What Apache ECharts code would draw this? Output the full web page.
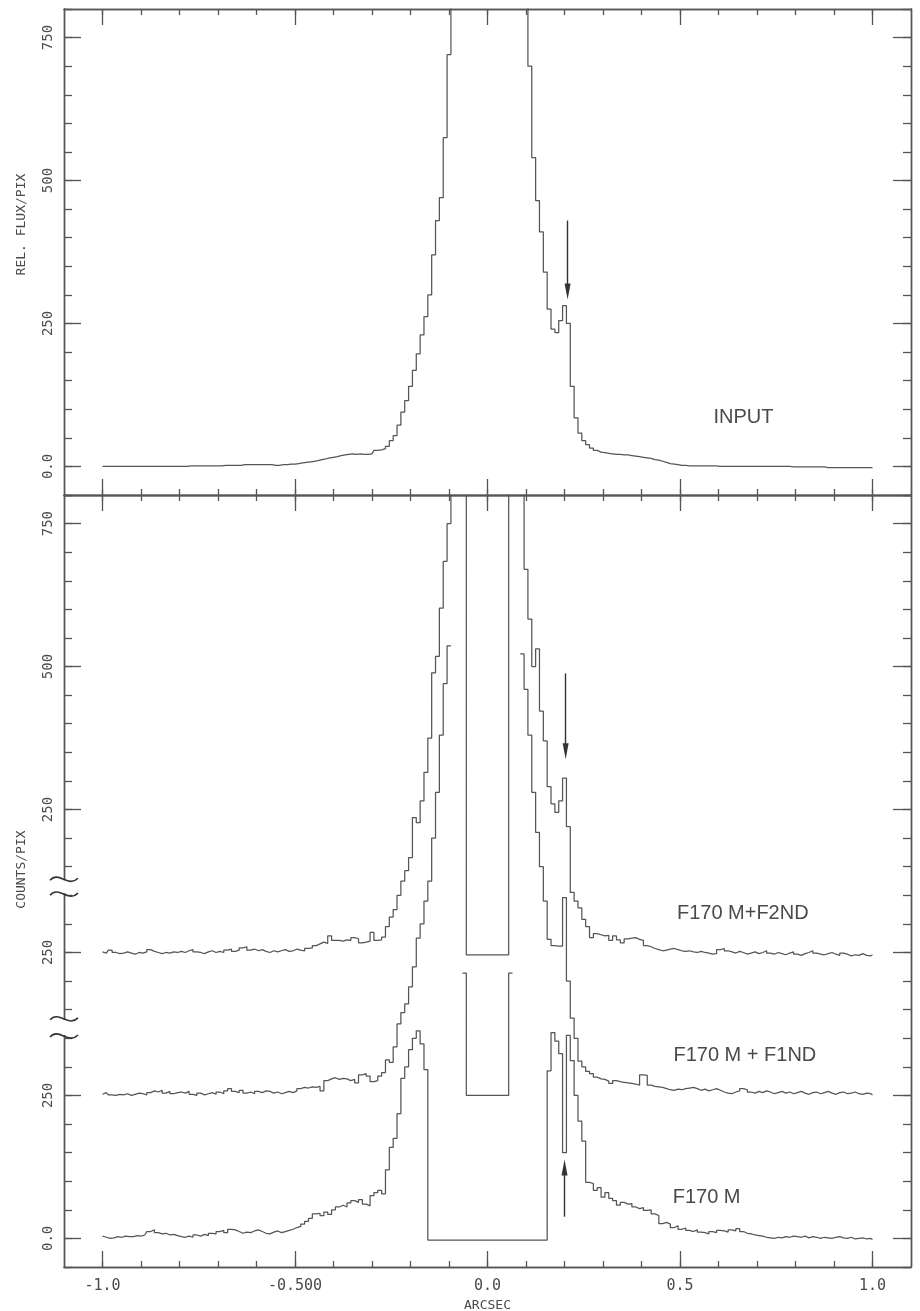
<!DOCTYPE html>
<html><head><meta charset="utf-8">
<script src="https://cdn.jsdelivr.net/npm/echarts@6/dist/echarts.min.js"></script>
<style>html,body{margin:0;padding:0;background:#fff}#c{width:920px;height:1311px}</style>
</head><body><div id="c"></div>
<script>
// ---- data (bin centres: -1.00 .. 1.00 in steps of 0.01 arcsec) ----
const X_START = -1.0;
const BIN = 0.01;

const INPUT = [
0,0,0,0,0,0,0,0,0,0,
0,0,0,0,0,0,0,0,0,0,
0,0,0,1,1,1,1,1,1,1,
1,1,2,2,2,2,2,3,3,3,
3,3,3,3,3,2,2,3,3,4,
4,5,6,7,8,9,10,12,13,15,
16,17,19,20,21,22,21,22,21,21,
22,28,29,31,35,45,54,72,95,115,
140,168,197,230,262,300,370,430,470,575,
720,1500,1500,1500,1500,1500,1500,1500,1500,1500,
1500,1500,1500,1500,1500,1500,1500,1500,1500,1500,
1500,700,540,465,410,340,275,240,234,255,
281,250,140,85,58,45,38,32,28,25,
24,23,22,21,21,20,20,19,18,17,
16,15,14,12,11,9,7,5,4,3,
2,2,1,1,1,1,1,1,1,1,
0,0,0,0,0,0,0,0,0,0,
0,0,0,0,0,0,0,0,0,-1,
-1,-1,-1,-1,-1,-1,-1,-1,-2,-2,
-2,-2,-2,-2,-2,-2,-2,-2,-2,-2,
-2];

const F170M = [
4,2,0,1,3,2,4,3,3,5,
4,6,12,15,10,8,9,6,7,5,
3,2,4,2,6,4,7,5,9,8,
12,14,10,16,15,12,9,11,10,13,
15,12,9,8,11,13,10,12,14,16,
19,21,25,30,35,43,44,40,46,42,
50,55,58,55,62,66,63,68,60,57,
75,80,84,78,120,159,175,218,280,300,
330,350,363,340,295,-3,-3,-3,-3,-3,
-3,-3,-3,-3,-3,-3,-3,-3,-3,-3,
-3,-3,-3,-3,-3,-3,-3,-3,-3,-3,
-3,-3,-3,-3,-3,-3,293,360,345,323,
150,355,311,250,205,170,98,96,84,89,
72,80,70,66,58,63,60,61,55,52,
54,49,50,43,40,26,28,25,19,22,
16,18,14,12,15,11,10,8,12,10,
14,13,11,15,13,17,12,9,8,6,
5,4,2,1,0,2,1,3,2,4,
3,2,4,1,3,2,0,2,1,0,
2,3,1,0,2,-1,0,1,-1,0,
-2];

const F170M_F1ND = [
252,255,251,250,252,251,253,250,252,254,
253,251,255,258,256,259,254,257,253,255,
256,254,257,252,250,254,251,253,255,252,
256,253,258,262,257,255,259,254,256,253,
257,255,258,257,254,256,253,255,257,255,
258,262,264,263,265,264,266,258,276,279,
281,278,280,279,276,278,272,286,288,284,
274,276,284,290,312,308,335,375,395,410,
440,475,525,550,590,625,700,780,880,970,
1036,null,null,null,464,250,250,250,250,250,
250,250,250,250,250,250,464,null,null,1022,
960,880,780,710,650,590,523,512,511,511,
596,450,385,350,310,300,292,288,282,279,
278,275,271,276,274,273,272,271,270,268,
286,285,268,266,265,264,262,260,259,261,
260,262,263,264,262,259,261,258,260,262,
259,256,254,253,256,258,262,260,256,254,
257,255,258,256,253,255,257,254,256,253,
255,257,254,252,255,256,253,255,257,254,
252,255,256,253,254,256,253,252,254,253,
251];

const F170M_F2ND = [
501,499,504,500,498,499,501,499,497,500,
499,501,505,502,500,498,500,499,501,500,
502,500,503,505,501,500,498,501,503,500,
502,500,504,506,502,504,508,510,504,506,
503,505,502,500,503,501,503,505,502,503,
506,504,503,507,508,512,515,518,516,529,
521,521,520,522,521,526,524,517,518,520,
535,521,522,527,545,562,575,600,625,643,
666,736,727,765,815,875,989,1018,1102,1184,
1250,2000,2000,2000,2000,496,496,496,496,496,
496,496,496,496,496,496,2000,2000,2000,2000,
1170,1083,1000,1031,922,870,790,760,745,765,
805,720,605,590,578,558,545,526,533,531,
529,530,521,529,522,517,524,525,526,523,
521,512,510,507,505,503,504,506,507,505,
503,502,503,501,500,502,500,499,497,498,
505,507,503,501,499,502,500,497,499,501,
498,500,503,499,497,500,498,496,499,501,
497,495,498,500,503,499,497,496,498,500,
497,495,499,497,494,496,495,498,495,494,
496];

const CURVE_NAMES = ['INPUT', 'F170 M+F2ND', 'F170 M + F1ND', 'F170 M'];
const X_MAJOR = [-1, -0.5, 0, 0.5, 1];
const X_MINOR = [-1,-0.9,-0.8,-0.7,-0.6,-0.5,-0.4,-0.3,-0.2,-0.1,0,0.1,0.2,0.3,0.4,0.5,0.6,0.7,0.8,0.9,1];
const X_LABELS = {'-1':'-1.0','-0.5':'-0.500','0':'0.0','0.5':'0.5','1':'1.0'};
const Y_TOP_MAJOR = [0, 250, 500, 750];
const Y_TOP_LABELS = {0:'0.0', 250:'250', 500:'500', 750:'750'};
const Y_BOT_MAJOR = [0, 250, 500, 750, 1000, 1250];
const Y_BOT_LABELS = {0:'0.0', 250:'250', 500:'250', 750:'250', 1000:'500', 1250:'750'};
const AXIS_NAMES = {x:'ARCSEC', top:'REL. FLUX/PIX', bottom:'COUNTS/PIX'};
const BREAKS = [[628, 602], [384, 354]];

// ---- styling ----
const LINE = '#555', TXT = '#4a4a4a';
const MONO = "'DejaVu Sans Mono','Liberation Mono',monospace";
const SANS = "'Liberation Sans',Arial,sans-serif";

function bins(vals){ return vals.map((v,i)=>[+(X_START + i*BIN).toFixed(3), v]); }

function xAx(grid, pos, ticks, len, labels){
  const a = {type:'value', gridIndex:grid, position:pos, min:-1.1, max:1.1,
    axisLine:{show:true, onZero:false, lineStyle:{color:LINE, width:1.4}},
    axisTick:{show:true, inside:true, length:len, customValues:ticks, lineStyle:{color:LINE, width:1.3}},
    axisLabel:{show:false}, splitLine:{show:false}};
  if (labels){
    a.axisLabel = {show:true, customValues:X_MAJOR, margin:12, color:TXT, fontFamily:MONO, fontSize:15,
      formatter:v=>X_LABELS[String(v)]};
    a.name = AXIS_NAMES.x; a.nameLocation = 'middle'; a.nameGap = 31;
    a.nameTextStyle = {color:TXT, fontFamily:MONO, fontSize:13};
  }
  return a;
}
function yAx(grid, pos, max, major, len, labels){
  const a = {type:'value', gridIndex:grid, position:pos, min:-50, max:max,
    axisLine:{show:true, onZero:false, lineStyle:{color:LINE, width:1.4}},
    axisTick:{show:true, inside:true, length:len, lineStyle:{color:LINE, width:1.3}},
    axisLabel:{show:false}, splitLine:{show:false}};
  if (major) a.axisTick.customValues = major; else a.interval = 50;
  if (labels){
    a.axisLabel = {show:true, customValues:major, rotate:90, margin:9, color:TXT, fontFamily:MONO, fontSize:14,
      formatter:v=>labels[v]};
  }
  return a;
}

const arrowStyle = {symbol:['none','triangle'], symbolSize:[6,16], silent:true, animation:false,
  label:{show:false}, lineStyle:{color:'#333', width:1.4, type:'solid'}, emphasis:{disabled:true}};

function curve(name, vals, xi, yi, extra){
  return Object.assign({type:'line', name:name, xAxisIndex:xi, yAxisIndex:yi, data:bins(vals),
    step:'middle', showSymbol:false, connectNulls:false, clip:true, animation:false, silent:true,
    lineStyle:{color:LINE, width:1.25}}, extra||{});
}

const option = {
  backgroundColor:'#fff',
  animation:false,
  grid:[
    {left:64, right:9, top:9, height:486, outerBoundsMode:'none'},
    {left:64, right:9, top:495, height:772, outerBoundsMode:'none'}
  ],
  xAxis:[
    xAx(0,'bottom',X_MAJOR,16,false), xAx(0,'bottom',X_MINOR,6,false),
    xAx(0,'top',X_MAJOR,16,false), xAx(0,'top',X_MINOR,6,false),
    xAx(1,'bottom',X_MAJOR,16,true), xAx(1,'bottom',X_MINOR,6,false),
    xAx(1,'top',X_MAJOR,16,false), xAx(1,'top',X_MINOR,6,false)
  ],
  yAxis:[
    yAx(0,'left',800,Y_TOP_MAJOR,17,Y_TOP_LABELS), yAx(0,'left',800,null,8,null),
    yAx(0,'right',800,Y_TOP_MAJOR,18,null), yAx(0,'right',800,null,8,null),
    yAx(1,'left',1300,Y_BOT_MAJOR,17,Y_BOT_LABELS), yAx(1,'left',1300,null,8,null),
    yAx(1,'right',1300,Y_BOT_MAJOR,18,null), yAx(1,'right',1300,null,8,null)
  ],
  series:[
    curve(CURVE_NAMES[0], INPUT, 0, 0, {markLine:Object.assign({data:[[{coord:[0.208,430]},{coord:[0.208,306]}]]}, arrowStyle)}),
    curve(CURVE_NAMES[1], F170M_F2ND, 4, 4, {markLine:Object.assign({data:[[{coord:[0.203,988]},{coord:[0.203,852]}]]}, arrowStyle)}),
    curve(CURVE_NAMES[2], F170M_F1ND, 4, 4),
    curve(CURVE_NAMES[3], F170M, 4, 4, {markLine:Object.assign({data:[[{coord:[0.2,38]},{coord:[0.2,124]}]]}, arrowStyle)})
  ]
};

const chart = echarts.init(document.getElementById('c'), null, {renderer:'canvas'});
chart.setOption(option);

// annotations placed through the axes' scales
function px(xi, x){ return chart.convertToPixel({xAxisIndex:xi}, x); }
function py(yi, y){ return chart.convertToPixel({yAxisIndex:yi}, y); }
const axisX = px(4, -1.1);
const g = [];
function label(text, xi, yi, x, y){
  g.push({type:'text', x:px(xi,x), y:py(yi,y), silent:true,
    style:{text:text, fill:TXT, font:'20px '+SANS, textAlign:'left', align:'left', textVerticalAlign:'middle', verticalAlign:'middle'}});
}
label(CURVE_NAMES[0], 0, 0, 0.587, 86);
label(CURVE_NAMES[1], 4, 4, 0.492, 568);
label(CURVE_NAMES[2], 4, 4, 0.483, 320);
label(CURVE_NAMES[3], 4, 4, 0.481, 72);
function vname(text, yi, y){
  g.push({type:'text', x:axisX-42, y:py(yi,y), rotation:Math.PI/2, silent:true,
    style:{text:text, fill:TXT, font:'13px '+MONO, textAlign:'center', align:'center', textVerticalAlign:'middle', verticalAlign:'middle'}});
}
vname(AXIS_NAMES.top, 0, 423);
vname(AXIS_NAMES.bottom, 4, 645);
BREAKS.forEach(([hi, lo])=>{
  const y1 = py(4, hi), y2 = py(4, lo);
  g.push({type:'rect', silent:true, shape:{x:axisX-3, y:y1+1, width:6, height:y2-y1-2}, style:{fill:'#fff'}, z:50});
  [y1, y2].forEach(y=>{
    g.push({type:'bezierCurve', silent:true, z:51,
      shape:{x1:axisX-14, y1:y+1, cpx1:axisX-5, cpy1:y-9, cpx2:axisX+4, cpy2:y+9, x2:axisX+14, y2:y-1},
      style:{stroke:'#333', lineWidth:1.6, fill:null}});
  });
});
chart.setOption({graphic:{elements:g}});
</script></body></html>
